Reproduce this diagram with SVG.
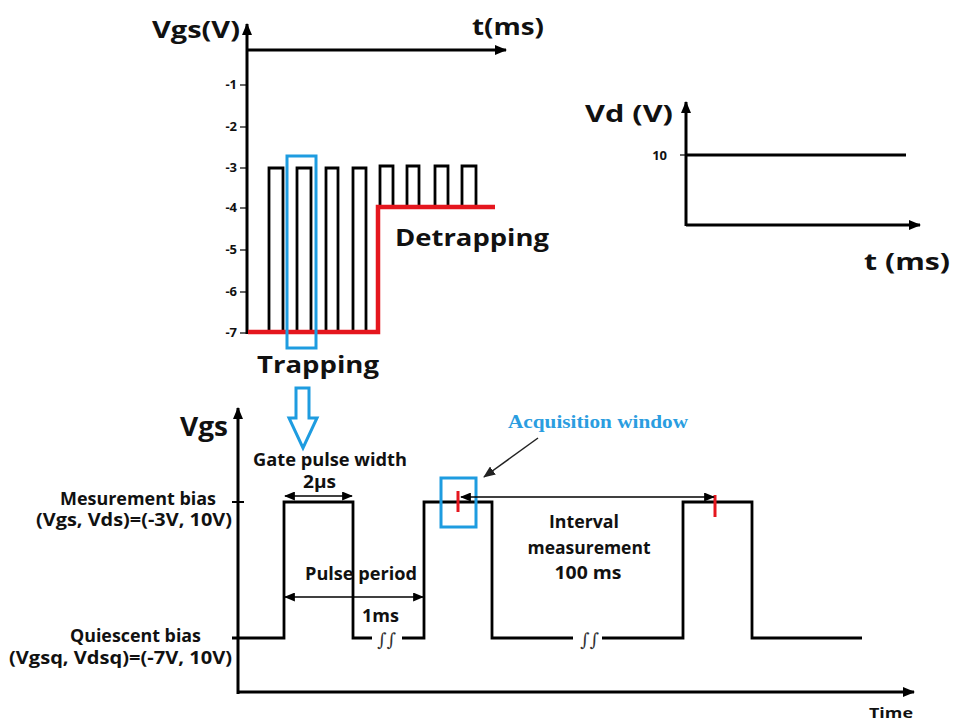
<svg xmlns="http://www.w3.org/2000/svg" width="956" height="724" viewBox="0 0 956 724">
<defs>
<marker id="ah" viewBox="0 0 12 10" refX="11" refY="5" markerWidth="12" markerHeight="10" markerUnits="userSpaceOnUse" orient="auto-start-reverse">
<path d="M0,0 L12,5 L0,10 Z" fill="#000"/>
</marker>
<marker id="ahs" viewBox="0 0 12 10" refX="11" refY="5" markerWidth="11" markerHeight="9" markerUnits="userSpaceOnUse" orient="auto-start-reverse">
<path d="M0,0 L12,5 L0,10 Z" fill="#000"/>
</marker>
<marker id="ahg" viewBox="0 0 12 10" refX="11" refY="5" markerWidth="12" markerHeight="10" markerUnits="userSpaceOnUse" orient="auto">
<path d="M0,0 L12,5 L0,10 Z" fill="#222"/>
</marker>
<style>
.ax{stroke:#000;stroke-width:3;fill:none}
.w{stroke:#000;stroke-width:2.8;fill:none;stroke-linejoin:miter}
.red{stroke:#e5161e;stroke-width:4.5;fill:none}
.redt{stroke:#e5161e;stroke-width:3;fill:none}
.blue{stroke:#1e9ce0;stroke-width:3;fill:none}
.thin{stroke:#000;stroke-width:1.6;fill:none}
.t{font-family:"Open Sans","Liberation Sans",sans-serif;font-weight:bold;fill:#111}
.big{font-size:24px}
.mid{font-size:17px}
.sm{font-size:13px}
.acq{font-family:"Liberation Serif",serif;font-weight:bold;font-size:18px;fill:#2a9de0}
.brk{font-family:"DejaVu Serif","Liberation Serif",serif;font-style:italic;font-size:18px;fill:#333}
</style>
</defs>

<g id="top-left-plot">
<line class="ax" x1="247" y1="334" x2="247" y2="24" marker-end="url(#ah)"/>
<line class="ax" x1="247" y1="50" x2="506" y2="50" marker-end="url(#ah)"/>
<text class="t big" x="240" y="38" text-anchor="end" textLength="88" lengthAdjust="spacingAndGlyphs">Vgs(V)</text>
<text class="t big" x="472" y="35" textLength="72" lengthAdjust="spacingAndGlyphs">t(ms)</text>
<g class="t sm" text-anchor="end">
<text x="237" y="89">-1</text>
<text x="237" y="131">-2</text>
<text x="237" y="172">-3</text>
<text x="237" y="212">-4</text>
<text x="237" y="254">-5</text>
<text x="237" y="296">-6</text>
<text x="237" y="337">-7</text>
</g>
<g stroke="#000" stroke-width="1.2">
<line x1="240" y1="85" x2="247" y2="85"/>
<line x1="240" y1="127" x2="247" y2="127"/>
<line x1="240" y1="168" x2="247" y2="168"/>
<line x1="240" y1="208" x2="247" y2="208"/>
<line x1="240" y1="250" x2="247" y2="250"/>
<line x1="240" y1="292" x2="247" y2="292"/>
<line x1="240" y1="333" x2="247" y2="333"/>
</g>
<path class="w" d="M269,332 V168 H283 V332 M297,332 V168 H311 V332 M326,332 V168 H338 V332 M353,332 V168 H366 V332 M380,207 V166 H393 V207 M407,207 V166 H419 V207 M435,207 V166 H448 V207 M462,207 V166 H476 V207"/>
<path class="red" d="M248,332 H378 V207 H495"/>
<rect class="blue" x="287" y="156" width="29" height="192"/>
<text class="t big" x="395" y="246" textLength="154" lengthAdjust="spacingAndGlyphs">Detrapping</text>
<text class="t big" x="257" y="373" textLength="122" lengthAdjust="spacingAndGlyphs">Trapping</text>
<path class="blue" d="M296,388 H309 V418 H317 L303,448 L289,418 H296 Z" stroke-width="2.5"/>
</g>

<g id="top-right-plot">
<line class="ax" x1="686" y1="226" x2="686" y2="102" marker-end="url(#ah)"/>
<line class="ax" x1="686" y1="225" x2="920" y2="225" marker-end="url(#ah)"/>
<line x1="680" y1="155" x2="686" y2="155" stroke="#000" stroke-width="1.2"/>
<line class="ax" x1="686" y1="155" x2="906" y2="155" stroke-width="2.5"/>
<text class="t sm" x="667" y="160" text-anchor="end">10</text>
<text class="t big" x="585" y="122" textLength="88" lengthAdjust="spacingAndGlyphs">Vd (V)</text>
<text class="t big" x="864" y="270" textLength="86" lengthAdjust="spacingAndGlyphs">t (ms)</text>
</g>

<g id="bottom-plot">
<line class="ax" x1="238" y1="694" x2="238" y2="408" marker-end="url(#ah)"/>
<line class="ax" x1="237" y1="692" x2="914" y2="692" marker-end="url(#ah)"/>
<line x1="232" y1="502" x2="244" y2="502" stroke="#000" stroke-width="2"/>
<text class="t" x="180" y="436" font-size="27" textLength="48" lengthAdjust="spacingAndGlyphs">Vgs</text>
<text class="t" x="869" y="718" font-size="15" textLength="44" lengthAdjust="spacingAndGlyphs">Time</text>
<path class="w" d="M232,638 H284 V502 H353 V638 H372 M402,638 H424 V502 H492 V638 H573 M602,638 H683 V502 H752 V638 H862"/>
<text class="brk" x="377" y="646">∫∫</text>
<text class="brk" x="580" y="646">∫∫</text>
</g>

<g id="labels-left">
<text class="t mid" x="216" y="505" text-anchor="end" textLength="156" lengthAdjust="spacingAndGlyphs">Mesurement bias</text>
<text class="t mid" x="232" y="526" text-anchor="end" textLength="196" lengthAdjust="spacingAndGlyphs">(Vgs, Vds)=(-3V, 10V)</text>
<text class="t mid" x="201" y="642" text-anchor="end" textLength="131" lengthAdjust="spacingAndGlyphs">Quiescent bias</text>
<text class="t mid" x="232" y="664" text-anchor="end" textLength="223" lengthAdjust="spacingAndGlyphs">(Vgsq, Vdsq)=(-7V, 10V)</text>
</g>

<g id="pulse-width">
<text class="t mid" x="253" y="466" textLength="154" lengthAdjust="spacingAndGlyphs">Gate pulse width</text>
<text class="t mid" x="303" y="488" textLength="33" lengthAdjust="spacingAndGlyphs">2µs</text>
</g>

<g id="pulse-period">
<text class="t mid" x="305" y="580" textLength="112" lengthAdjust="spacingAndGlyphs">Pulse period</text>
<text class="t mid" x="362" y="622" textLength="37" lengthAdjust="spacingAndGlyphs">1ms</text>
</g>

<g id="acquisition">
<rect class="blue" x="441" y="478" width="35" height="49"/>
<line class="redt" x1="458" y1="491" x2="458" y2="512"/>
<line class="redt" x1="715" y1="495" x2="715" y2="517"/>
<text class="acq" x="508" y="428" textLength="180" lengthAdjust="spacingAndGlyphs">Acquisition window</text>
</g>

<g id="interval">
<text class="t mid" x="584" y="528" text-anchor="middle" textLength="70" lengthAdjust="spacingAndGlyphs">Interval</text>
<text class="t mid" x="589" y="554" text-anchor="middle" textLength="123" lengthAdjust="spacingAndGlyphs">measurement</text>
<text class="t mid" x="588" y="579" text-anchor="middle" textLength="67" lengthAdjust="spacingAndGlyphs">100 ms</text>
</g>

<g id="connectors">
<line class="thin" x1="285" y1="496" x2="352" y2="496" marker-start="url(#ahs)" marker-end="url(#ahs)"/>
<line class="thin" x1="285" y1="597" x2="423" y2="597" marker-start="url(#ahs)" marker-end="url(#ahs)"/>
<line class="thin" x1="461" y1="497" x2="714" y2="497" marker-start="url(#ahs)" marker-end="url(#ahs)"/>
<line x1="538" y1="438" x2="484" y2="477" stroke="#222" stroke-width="1.5" marker-end="url(#ahg)"/>
</g>
</svg>
